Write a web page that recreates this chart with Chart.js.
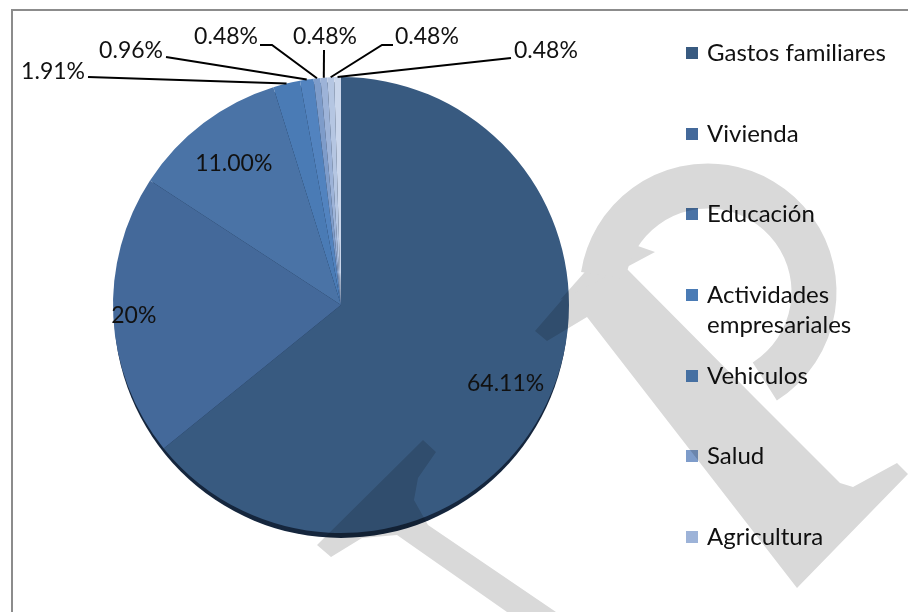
<!DOCTYPE html>
<html lang="es">
<head>
<meta charset="utf-8">
<title>Destino del crédito</title>
<script src="https://cdn.jsdelivr.net/npm/chart.js@4/dist/chart.umd.min.js"></script>
<style>
    html, body { margin: 0; padding: 0; background: #fff; }
    #wrap { position: relative; width: 908px; height: 612px; overflow: hidden; font-family: Lato, "Open Sans", sans-serif; }
    #frame { position: absolute; left: 11px; top: 9px; width: 920px; height: 640px; border: 2px solid #8c8c8c; box-sizing: border-box; }
    #chart { position: absolute; left: 0; top: 0; }
    #legend { position: absolute; left: 686px; top: 37px; width: 220px; margin: 0; padding: 0; list-style: none; }
    #legend li { height: 80.7px; display: flex; align-items: flex-start; }
    #legend .box { width: 12px; height: 12px; margin: 10px 9px 0 0; flex: none; }
    #legend .txt { width: 198px; font-size: 24px; line-height: 30px; color: #111; }
    #mark { position: absolute; left: 0; top: 0; mix-blend-mode: multiply; pointer-events: none; }
</style>
</head>
<body>
<div id="wrap">
    <div id="frame"></div>
    <canvas id="chart" width="908" height="612"></canvas>
    <ul id="legend"></ul>
    <canvas id="mark" width="908" height="612"></canvas>
</div>
<script>
// categorias del grafico (las dos ultimas no aparecen en la leyenda)
const categories = ['Gastos familiares', 'Vivienda', 'Educación', 'Actividades empresariales', 'Vehiculos', 'Salud', 'Agricultura', '', '']
const shares = [64.11, 20, 11, 1.91, 0.96, 0.48, 0.48, 0.48, 0.48]
const shareLabels = ['64.11%', '20%', '11.00%', '1.91%', '0.96%', '0.48%', '0.48%', '0.48%', '0.48%']
const sliceColors = ['#385a80', '#44699a', '#4a73a6', '#4a7bb5', '#5283bf', '#7e9cca', '#9db3d8', '#b5c6e2', '#cad6eb']

const FONT = '23px Lato, "Open Sans", sans-serif'

// etiquetas dentro de las porciones grandes
const insideRadius = [0.8, 0.91, 0.78]

// etiquetas con linea guia para las porciones pequeñas
const callouts = {
    3: { tx: 85, ty: 72, align: 'right', path: [[88, 77]] },
    4: { tx: 163, ty: 51, align: 'right', path: [[166, 57]] },
    5: { tx: 258, ty: 37, align: 'right', path: [[260, 45], [272, 45]] },
    6: { tx: 325, ty: 37, align: 'center', path: [[324, 50]] },
    7: { tx: 395, ty: 37, align: 'left', path: [[393, 45], [382, 45]] },
    8: { tx: 514, ty: 51, align: 'left', path: [[511, 58]] }
}

const pieShadow = {
    id: 'pieShadow',
    beforeDatasetsDraw(chart) {
        const arc = chart.getDatasetMeta(0).data[0]
        if (!arc) return
        const ctx = chart.ctx
        ctx.save()
        ctx.fillStyle = '#15263d'
        ctx.beginPath()
        ctx.ellipse(arc.x, arc.y + 5, arc.outerRadius - 1, arc.outerRadius, 0, 0, Math.PI * 2)
        ctx.fill()
        ctx.restore()
    }
}

const sliceLabels = {
    id: 'sliceLabels',
    afterDatasetsDraw(chart) {
        const ctx = chart.ctx
        const arcs = chart.getDatasetMeta(0).data
        ctx.save()
        ctx.font = FONT
        ctx.fillStyle = '#111'
        ctx.strokeStyle = '#000'
        ctx.lineWidth = 2
        ctx.textBaseline = 'middle'

        arcs.forEach((arc, i) => {
            const mid = (arc.startAngle + arc.endAngle) / 2
            if (i < insideRadius.length) {
                const r = arc.outerRadius * insideRadius[i]
                ctx.textAlign = 'center'
                ctx.fillText(shareLabels[i], arc.x + Math.cos(mid) * r, arc.y + Math.sin(mid) * r)
                return
            }
            const c = callouts[i]
            if (!c) return
            const ex = arc.x + Math.cos(mid) * arc.outerRadius
            const ey = arc.y + Math.sin(mid) * arc.outerRadius
            ctx.beginPath()
            ctx.moveTo(c.path[0][0], c.path[0][1])
            c.path.slice(1).forEach(p => ctx.lineTo(p[0], p[1]))
            ctx.lineTo(ex, ey)
            ctx.stroke()
            ctx.textAlign = c.align
            ctx.fillText(shareLabels[i], c.tx, c.ty)
        })
        ctx.restore()
    }
}

new Chart(document.getElementById('chart').getContext('2d'), {
    type: 'pie',
    data: {
        labels: categories,
        datasets: [{
            data: shares,
            backgroundColor: sliceColors,
            borderWidth: 0
        }]
    },
    options: {
        responsive: false,
        animation: false,
        layout: { padding: { left: 113, right: 339, top: 77, bottom: 79 } },
        plugins: {
            legend: { display: false },
            tooltip: { enabled: false }
        }
    },
    plugins: [pieShadow, sliceLabels]
})

// leyenda
const legend = document.getElementById('legend')
categories.forEach((name, i) => {
    if (!name) return
    const li = document.createElement('li')
    li.innerHTML = '<span class="box" style="background:' + sliceColors[i] + '"></span><span class="txt">' + name + '</span>'
    legend.appendChild(li)
})

// marca de agua gris encima de todo
const wm = document.getElementById('mark').getContext('2d')
wm.fillStyle = '#d9d9d9'
wm.strokeStyle = '#d9d9d9'

function shape(points) {
    wm.beginPath()
    points.forEach((p, k) => k ? wm.lineTo(p[0], p[1]) : wm.moveTo(p[0], p[1]))
    wm.closePath()
    wm.fill()
}

shape([[535, 331], [547, 341], [587, 317], [797, 588], [908, 474], [897, 463], [853, 487], [840, 483], [757, 400], [625, 267], [573, 287]])
shape([[560, 300], [615, 238], [655, 252], [625, 268]])

wm.lineWidth = 45
wm.beginPath()
wm.arc(708, 292, 106, Math.PI * 1.05, Math.PI * 2.32)
wm.stroke()

shape([[317, 545], [423, 440], [436, 452], [418, 478], [414, 500], [428, 525], [556, 612], [507, 612], [397, 535], [362, 538], [331, 557]])
</script>
</body>
</html>
